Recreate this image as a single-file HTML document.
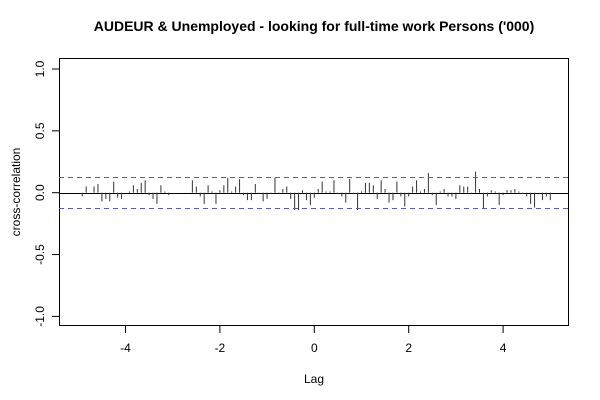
<!DOCTYPE html>
<html><head><meta charset="utf-8"><style>
html,body{margin:0;padding:0;background:#fff;}
svg{display:block;font-family:"Liberation Sans",Arial,sans-serif;}
</style></head><body>
<svg id="chart" width="600" height="400">
<text x="314" y="31" text-anchor="middle" font-size="14" font-weight="bold">AUDEUR &amp; Unemployed - looking for full-time work Persons ('000)</text>
<rect x="59.5" y="58.5" width="509" height="267" fill="none" stroke="#000"/>
<text x="314" y="383" text-anchor="middle" font-size="12">Lag</text>
<text transform="translate(20,192) rotate(-90)" text-anchor="middle" font-size="12">cross-correlation</text>
<g id="xaxis"></g><g id="yaxis"></g><g id="bars"></g><g id="ci"></g>
</svg>
<script>
const startLag = -59/12;
const lagStep = 1/12;
const ccfValues = [-0.03,0.05,0.00,0.05,0.07,-0.07,-0.05,-0.07,0.09,-0.04,-0.05,0.00,0.01,0.06,0.03,0.08,0.10,-0.02,-0.05,-0.09,0.06,0.01,-0.02,0.00,0.00,0.00,0.00,0.00,0.10,0.05,-0.03,-0.09,0.06,0.01,-0.09,0.02,0.06,0.12,0.01,0.05,0.11,-0.02,-0.06,-0.06,0.07,-0.01,-0.07,-0.05,-0.01,0.12,-0.01,0.03,0.05,-0.05,-0.14,-0.14,0.02,-0.06,-0.10,-0.04,0.03,
0.09,0.01,0.01,0.10,-0.01,-0.03,-0.08,0.11,-0.01,-0.14,0.01,0.08,0.08,0.06,-0.05,0.10,0.03,-0.08,-0.06,0.09,-0.03,-0.11,-0.03,0.05,0.10,0.01,0.03,0.16,-0.02,-0.10,0.01,0.03,-0.03,-0.03,-0.05,0.06,0.05,0.05,-0.01,0.17,0.03,-0.13,-0.03,0.02,0.01,-0.10,-0.02,0.02,0.02,0.03,0.01,-0.01,-0.03,-0.09,-0.12,0.00,-0.06,-0.03,-0.06];
const ciLevel = 0.123;
const xTicks = [-4,-2,0,2,4];
const yTicks = [-1.0,-0.5,0.0,0.5,1.0];
const yTickLabels = ["-1.0","-0.5","0.0","0.5","1.0"];

const NS="http://www.w3.org/2000/svg";
function xs(v){return 314.3+v*47.2;}
function ys(v){return 192.7-v*123.7;}
function mk(tag,attrs,parent){const e=document.createElementNS(NS,tag);for(const k in attrs)e.setAttribute(k,attrs[k]);document.getElementById(parent).appendChild(e);return e;}

xTicks.forEach(t=>{
  const l=mk('line',{x1:xs(t),x2:xs(t),y1:326,y2:333,stroke:'#000'},'xaxis');
  
  
  const tx=mk('text',{x:xs(t),y:352,'text-anchor':'middle','font-size':12},'xaxis');
  tx.textContent=String(t);
  
  
});
yTicks.forEach((t,i)=>{
  const l=mk('line',{x1:52,x2:59,y1:ys(t),y2:ys(t),stroke:'#000'},'yaxis');
  
  
  const tx=mk('text',{transform:`translate(44,${ys(t)}) rotate(-90)`,'text-anchor':'middle','font-size':12},'yaxis');
  tx.textContent=yTickLabels[i];
  
  
});
const zl=mk('line',{x1:59,x2:568,y1:Math.round(ys(0))+0.5,y2:Math.round(ys(0))+0.5,stroke:'#000'},'bars');


ccfValues.forEach((v,i)=>{
  const lag=startLag+i*lagStep;
  const b=mk('line',{x1:xs(lag),x2:xs(lag),y1:ys(0),y2:ys(v),stroke:'#333','stroke-width':1},'bars');
  
  
});
[ciLevel,-ciLevel].forEach(c=>{
  const y=Math.round(ys(c))+0.5;
  const l=mk('line',{x1:59,x2:568,y1:y,y2:y,stroke:'#5a5ab4','stroke-dasharray':'5,4'},'ci');
  
  
});
</script>
</body></html>
